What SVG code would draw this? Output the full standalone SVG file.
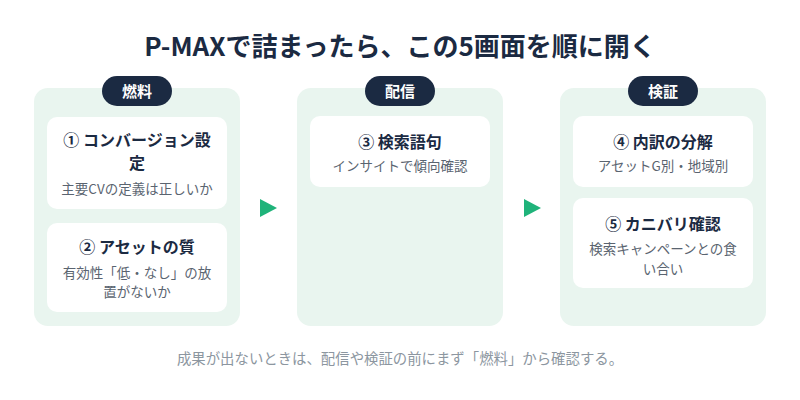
<svg xmlns="http://www.w3.org/2000/svg" width="800" height="400" viewBox="0 0 800 400">
  <style>
    .t{font-family:"Noto Sans CJK JP","Noto Sans",sans-serif}
    .title{font-size:26px;font-weight:700;fill:#1b2a42}
    .panel{fill:#e9f5ef}
    .pill{fill:#1b2a42}
    .pilltxt{font-size:15px;font-weight:700;fill:#ffffff}
    .card{fill:#ffffff}
    .ct{font-size:16px;font-weight:700;fill:#1b2a42}
    .cs{font-size:13.5px;fill:#5a6470}
    .foot{font-size:14.4px;fill:#8c96a0}
    .arrow{fill:#1fb37a}
  </style>
  <rect width="800" height="400" fill="#ffffff"/>
  <text class="t title" x="400" y="56" text-anchor="middle">P-MAXで詰まったら、この5画面を順に開く</text>

  <g id="panel-fuel">
    <rect class="panel" x="34" y="88" width="206" height="238" rx="14"/>
    <rect class="pill" x="102" y="76" width="70" height="30" rx="15"/>
    <text class="t pilltxt" x="137" y="96.5" text-anchor="middle">燃料</text>
  </g>
  <g id="panel-delivery">
    <rect class="panel" x="297" y="88" width="206" height="238" rx="14"/>
    <rect class="pill" x="365" y="76" width="70" height="30" rx="15"/>
    <text class="t pilltxt" x="400" y="96.5" text-anchor="middle">配信</text>
  </g>
  <g id="panel-verify">
    <rect class="panel" x="560" y="88" width="206" height="238" rx="14"/>
    <rect class="pill" x="628" y="76" width="70" height="30" rx="15"/>
    <text class="t pilltxt" x="663" y="96.5" text-anchor="middle">検証</text>
  </g>

  <g id="card1">
    <rect class="card" x="47" y="117" width="180" height="92" rx="10"/>
    <text class="t ct" x="137" y="146" text-anchor="middle">① コンバージョン設</text>
    <text class="t ct" x="137" y="169" text-anchor="middle">定</text>
    <text class="t cs" x="137" y="194" text-anchor="middle">主要CVの定義は正しいか</text>
  </g>
  <g id="card2">
    <rect class="card" x="47" y="223" width="180" height="89" rx="10"/>
    <text class="t ct" x="137" y="253" text-anchor="middle">② アセットの質</text>
    <text class="t cs" x="137" y="278" text-anchor="middle">有効性「低・なし」の放</text>
    <text class="t cs" x="137" y="297" text-anchor="middle">置がないか</text>
  </g>
  <g id="card3">
    <rect class="card" x="310" y="116" width="180" height="71" rx="10"/>
    <text class="t ct" x="400" y="148" text-anchor="middle">③ 検索語句</text>
    <text class="t cs" x="400" y="171" text-anchor="middle">インサイトで傾向確認</text>
  </g>
  <g id="card4">
    <rect class="card" x="573" y="116" width="180" height="71" rx="10"/>
    <text class="t ct" x="663" y="148" text-anchor="middle">④ 内訳の分解</text>
    <text class="t cs" x="663" y="171" text-anchor="middle">アセットG別・地域別</text>
  </g>
  <g id="card5">
    <rect class="card" x="573" y="198" width="180" height="90" rx="10"/>
    <text class="t ct" x="663" y="230" text-anchor="middle">⑤ カニバリ確認</text>
    <text class="t cs" x="663" y="254" text-anchor="middle">検索キャンペーンとの食</text>
    <text class="t cs" x="663" y="274" text-anchor="middle">い合い</text>
  </g>

  <g id="connectors">
    <polygon class="arrow" points="260,199 277,208 260,217"/>
    <polygon class="arrow" points="524,199 541,208 524,217"/>
  </g>

  <text class="t foot" x="400" y="364" text-anchor="middle">成果が出ないときは、配信や検証の前にまず「燃料」から確認する。</text>
</svg>
